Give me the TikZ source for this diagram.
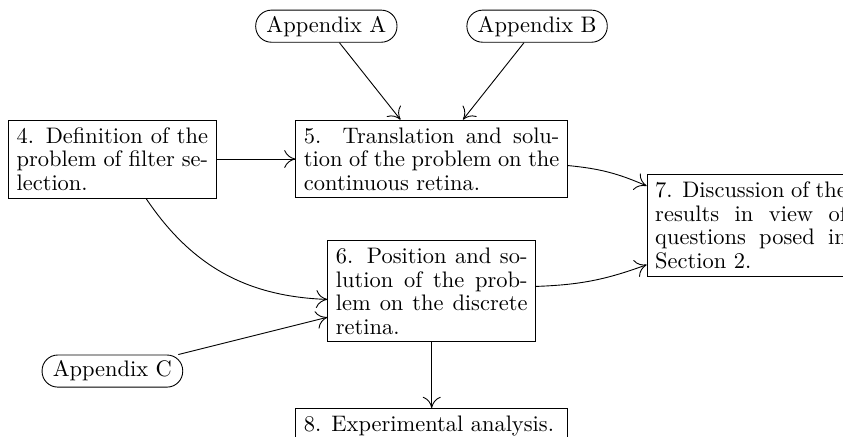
\documentclass[tikz,border=0pt]{standalone}
\usepackage{tikz}
\usetikzlibrary{arrows.meta}
\tikzstyle{node_box} = [rectangle, draw, text width=3cm, align=justify, inner xsep=3.6pt, inner ysep=3.3pt, font=\fontsize{10}{10.5}\selectfont]
\tikzstyle{node_wide} = [node_box, text width=4cm]
\tikzstyle{node_app} = [rectangle, draw, rounded corners=7pt, inner xsep=4.8pt, inner ysep=2.6pt, font=\fontsize{10}{10.5}\selectfont]
\tikzstyle{edge_normal} = [-{To[length=5pt,width=8pt]}]

\begin{document}
\begin{tikzpicture}
	\useasboundingbox (-6.76,-4.35) rectangle (6.44,2.49);
	\node (AA) at (-1.65,+2.08) [node_app] {Appendix A};
	\node (AB) at (+1.65,+2.08) [node_app] {Appendix B};
	\node (S4) at (-5,+0) [node_box] {4. Definition of the problem of filter selection.};
	\node (S5) at (+0,+0) [node_wide] {5. Translation and solution of the problem on the continuous retina.};
	\node (S6) at (+0,-2.07) [node_box] {6. Position and solution of the problem on the discrete retina.};
	\node (S7) at (+5,-1.04) [node_box] {7. Discussion of the results in view of questions posed in Section 2.};
	\node (AC) at (-5,-3.32) [node_app] {Appendix C};
	\node (S8) at (+0,-4.18) [node_wide] {8. Experimental analysis.};

	\draw[edge_normal] (AA)--(S5);
	\draw[edge_normal] (AB)--(S5);
	\draw[edge_normal] (S4)--(S5);
	\draw[edge_normal] (S4) to[bend right=27] (S6);
	\draw[edge_normal] (AC)--(S6);
	\draw[edge_normal] (S5) to[bend left=9] (S7);
	\draw[edge_normal] (S6) to[bend right=9] (S7);
	\draw[edge_normal] (S6)--(S8);
\end{tikzpicture}
\end{document}
